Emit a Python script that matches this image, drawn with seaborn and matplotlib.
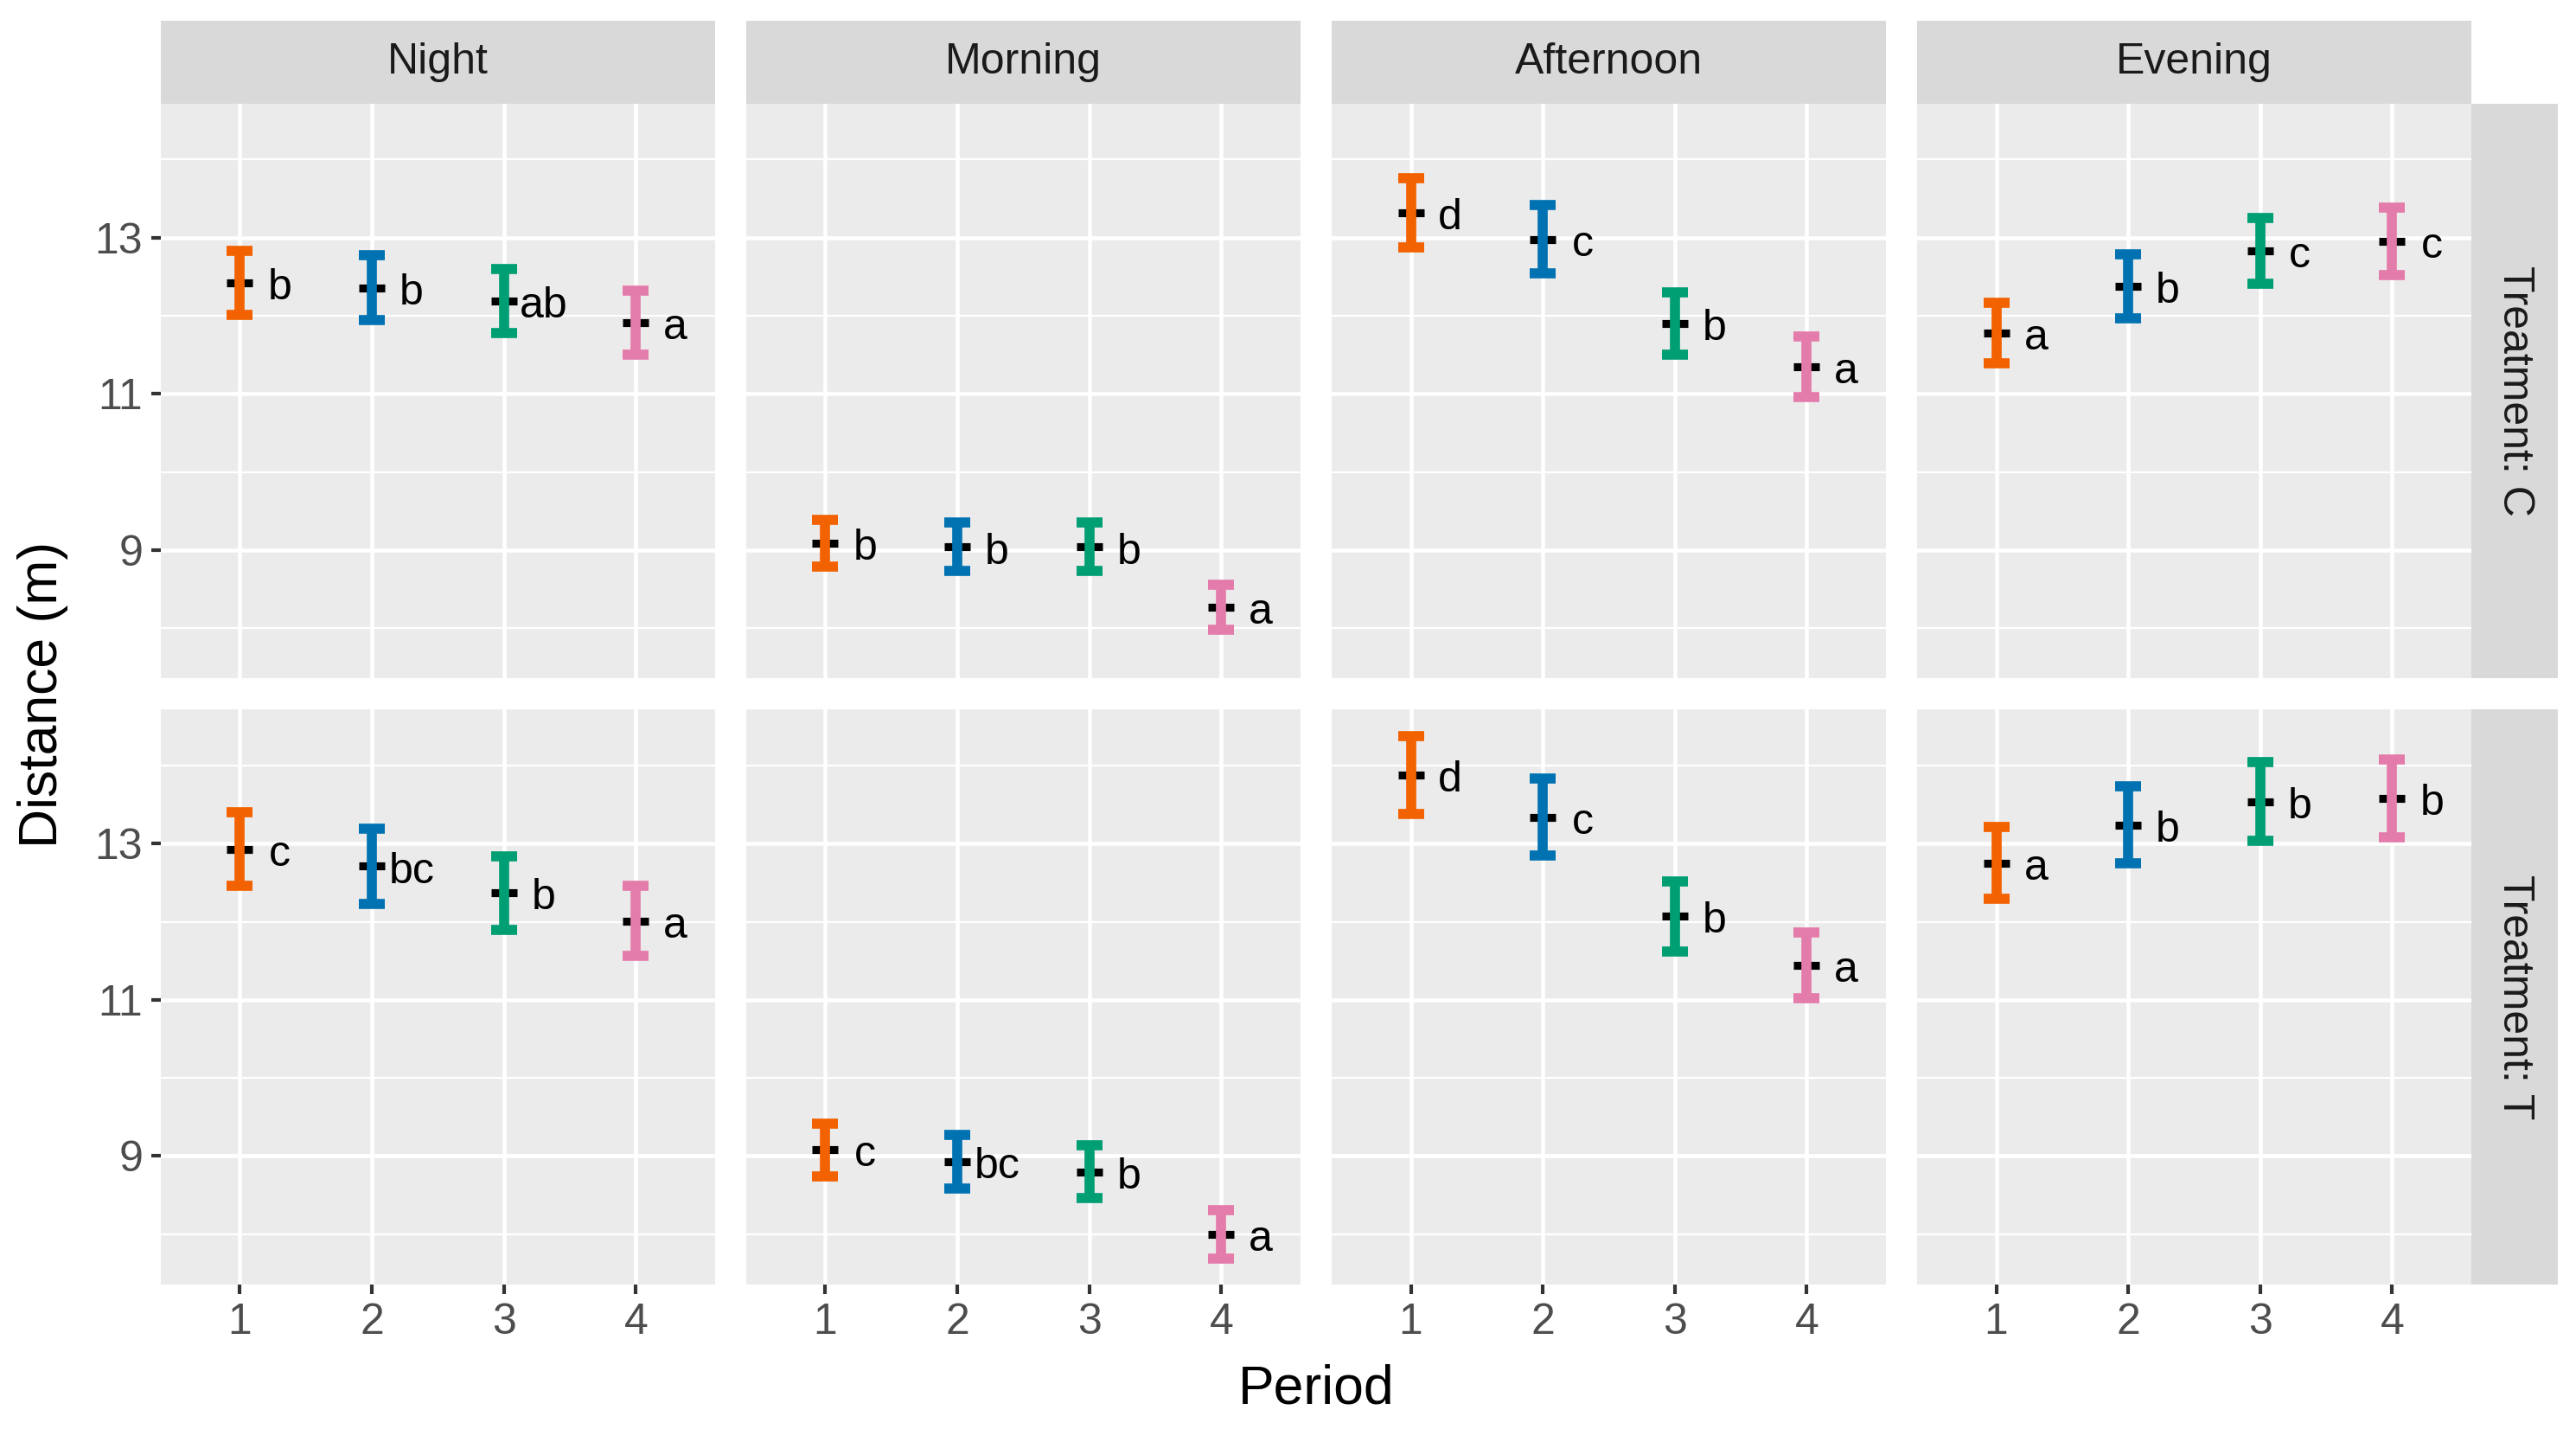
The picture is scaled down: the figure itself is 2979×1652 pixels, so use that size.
import matplotlib
matplotlib.use('Agg')
import matplotlib.pyplot as plt
from matplotlib.patches import Rectangle
from matplotlib.ticker import FixedLocator, MultipleLocator
import seaborn as sns
import pandas as pd

# Data
times = ['Night', 'Morning', 'Afternoon', 'Evening']
treatments = ['C', 'T']
periods = [1, 2, 3, 4]

# means per time of day (rows) and period (columns)
mean_C = [[12.42, 12.36, 12.19, 11.91],
          [9.09, 9.04, 9.04, 8.27],
          [13.32, 12.98, 11.90, 11.35],
          [11.78, 12.38, 12.83, 12.95]]
se_C = [[0.41, 0.42, 0.41, 0.41],
        [0.30, 0.31, 0.31, 0.29],
        [0.44, 0.44, 0.40, 0.39],
        [0.39, 0.41, 0.42, 0.43]]
letters_C = [['b', 'b', 'ab', 'a'],
             ['b', 'b', 'b', 'a'],
             ['d', 'c', 'b', 'a'],
             ['a', 'b', 'c', 'c']]

mean_T = [[12.93, 12.71, 12.37, 12.01],
          [9.08, 8.93, 8.80, 8.00],
          [13.88, 13.34, 12.07, 11.44],
          [12.75, 13.24, 13.54, 13.58]]
se_T = [[0.47, 0.48, 0.47, 0.45],
        [0.34, 0.34, 0.34, 0.31],
        [0.50, 0.49, 0.45, 0.42],
        [0.46, 0.49, 0.50, 0.50]]
letters_T = [['c', 'bc', 'b', 'a'],
             ['c', 'bc', 'b', 'a'],
             ['d', 'c', 'b', 'a'],
             ['a', 'b', 'b', 'b']]

yticks = [9, 11, 13]
period_colors = ['#F26200', '#0072B2', '#009E73', '#E47CAB']

# long table for the facet grid
rows = []
for trt, means, ses, lets in [('C', mean_C, se_C, letters_C), ('T', mean_T, se_T, letters_T)]:
    for i, t in enumerate(times):
        for j, p in enumerate(periods):
            rows.append({'Treatment': trt, 'Time': t, 'Period': p,
                         'Mean': means[i][j], 'SE': ses[i][j], 'Letter': lets[i][j]})
df = pd.DataFrame(rows)
palette = dict(zip(periods, period_colors))

# ggplot-like theme
sns.set_theme(style='darkgrid', rc={
    'axes.facecolor': '#EBEBEB',
    'grid.color': 'white',
    'axes.edgecolor': 'none',
})
plt.rcParams['font.family'] = ['Liberation Sans', 'DejaVu Sans']


def draw_panel(data, **kws):
    ax = plt.gca()
    for _, r in data.iterrows():
        ax.plot(r['Period'], r['Mean'], marker='_', ms=7.4, mew=2.2,
                color='black', ls='none', zorder=3)
        ax.errorbar(r['Period'], r['Mean'], yerr=r['SE'], fmt='none',
                    ecolor=palette[r['Period']], elinewidth=2.8,
                    capsize=3.7, capthick=2.8, zorder=4)
        ax.annotate(r['Letter'], xy=(r['Period'] + 0.3, r['Mean']),
                    xytext=(0, -4.6), textcoords='offset points',
                    ha='center', va='baseline', fontsize=12, color='black',
                    zorder=5)


g = sns.FacetGrid(df, row='Treatment', col='Time', row_order=treatments,
                  col_order=times, sharex=True, sharey=True, despine=False)
g.map_dataframe(draw_panel)
g.set_titles(template='', row_template='', col_template='')
g.set_axis_labels('', '')

fig = g.figure
fig.set_size_inches(2979 / 300, 1652 / 300)
fig.subplots_adjust(left=0.0624, right=0.9594, top=0.9274, bottom=0.1011,
                    wspace=0.056, hspace=0.0542)

lo = (df['Mean'] - df['SE']).min()
hi = (df['Mean'] + df['SE']).max()
pad = 0.05 * (hi - lo)

for ri, trt in enumerate(treatments):
    for ci, t in enumerate(times):
        ax = g.axes[ri, ci]
        ax.set_xlim(0.4, 4.6)
        ax.set_ylim(lo - pad, hi + pad)
        ax.xaxis.set_major_locator(FixedLocator(periods))
        ax.yaxis.set_major_locator(FixedLocator(yticks))
        ax.yaxis.set_minor_locator(MultipleLocator(2))
        ax.grid(which='major', color='white', lw=1.1)
        ax.grid(which='minor', axis='y', color='white', lw=0.55)
        ax.tick_params(which='major', length=2.75, width=1.0, color='#333333',
                       labelcolor='#4D4D4D', labelsize=12, pad=2.2,
                       bottom=(ri == 1), left=(ci == 0))
        ax.tick_params(which='minor', length=0)
        for s in ax.spines.values():
            s.set_visible(False)
        # top strips
        if ri == 0:
            h = 96 / 664.5
            ax.add_patch(Rectangle((0, 1), 1, h, transform=ax.transAxes,
                                   facecolor='#D9D9D9', edgecolor='none',
                                   clip_on=False))
            ax.text(0.5, 1 + h / 2, t, transform=ax.transAxes, ha='center',
                    va='center', fontsize=12, color='#1A1A1A')
        # right strips
        if ci == len(times) - 1:
            w = 100 / 641
            ax.add_patch(Rectangle((1, 0), w, 1, transform=ax.transAxes,
                                   facecolor='#D9D9D9', edgecolor='none',
                                   clip_on=False))
            ax.text(1 + w / 2, 0.5, 'Treatment: ' + trt, transform=ax.transAxes,
                    ha='center', va='center', rotation=270, fontsize=12,
                    color='#1A1A1A')

fig.text(0.511, 0.018, 'Period', ha='center', va='baseline', fontsize=15,
         color='black')
fig.text(0.0165, 0.514, 'Distance (m)', ha='center', va='center',
         rotation=90, fontsize=15, color='black')

fig.savefig('out.png', dpi=300, facecolor='white')
